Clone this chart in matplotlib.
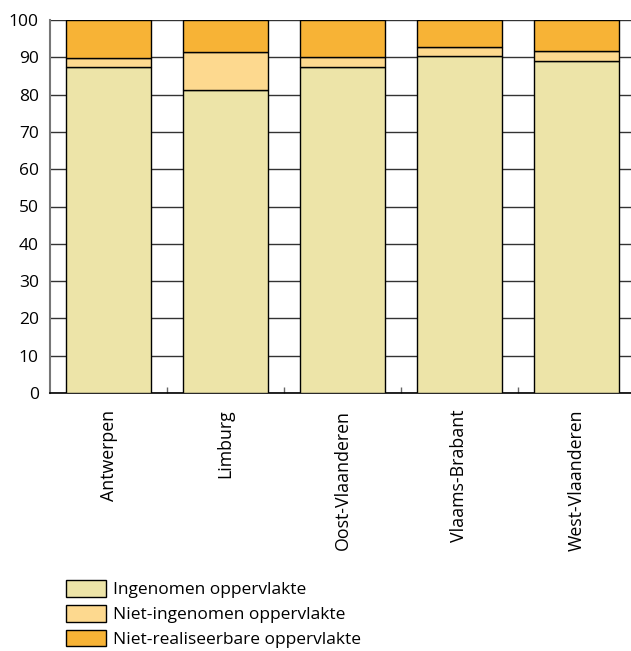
import matplotlib
matplotlib.use("Agg")
import matplotlib.pyplot as plt
from matplotlib.patches import Patch
import numpy as np

plt.rcParams['font.family'] = ['Open Sans', 'DejaVu Sans']

categories = ["Antwerpen", "Limburg", "Oost-Vlaanderen", "Vlaams-Brabant", "West-Vlaanderen"]
ingenomen = [87.5, 81.2, 87.5, 90.3, 88.9]
niet_ingenomen = [2.2, 10.3, 2.7, 2.5, 2.9]
niet_realiseerbaar = [10.3, 8.5, 9.8, 7.2, 8.2]
series_names = ["Ingenomen oppervlakte", "Niet-ingenomen oppervlakte", "Niet-realiseerbare oppervlakte"]
colors = ["#EDE4A8", "#FDD98F", "#F7B336"]
yticks = [0, 10, 20, 30, 40, 50, 60, 70, 80, 90, 100]

W, H = 631, 651
fig = plt.figure(figsize=(W / 100, H / 100), dpi=100)
ax = fig.add_axes([50 / W, 1 - 393 / H, 585 / W, 373 / H])

x = np.arange(len(categories))
bottom = np.zeros(len(categories))
handles = []
for vals, col, name in zip([ingenomen, niet_ingenomen, niet_realiseerbaar], colors, series_names):
    ax.bar(x, vals, bottom=bottom, width=0.72, color=col, edgecolor="black", linewidth=1.0, zorder=3)
    bottom += np.array(vals)
    handles.append(Patch(facecolor=col, edgecolor="black", linewidth=1.0, label=name))

ax.set_xlim(-0.5, 4.5)
ax.set_ylim(0, 100)
ax.set_yticks(yticks)
ax.set_yticklabels([str(v) for v in yticks], fontsize=12.5)
ax.yaxis.grid(True, color="#333333", linewidth=1.0, zorder=0)
ax.set_axisbelow(True)
ax.tick_params(axis="y", length=0, pad=8)

ax.set_xticks(x)
ax.set_xticklabels(categories, rotation=90, fontsize=12.8)
ax.tick_params(axis="x", which="major", length=0, pad=12)
ax.set_xticks(np.arange(0.5, 4.5, 1.0), minor=True)
ax.tick_params(axis="x", which="minor", direction="in", length=4, color="#666666", width=1)

for s in ["top", "right"]:
    ax.spines[s].set_visible(False)
ax.spines["left"].set_color("#777777")
ax.spines["left"].set_linewidth(1.5)
ax.spines["bottom"].set_color("black")
ax.spines["bottom"].set_linewidth(1.2)

fig.legend(handles=handles, loc="upper left", bbox_to_anchor=(66 / W, 1 - 580 / H),
           frameon=False, fontsize=12.5, handlelength=2.3, handleheight=1.1,
           handletextpad=0.4, labelspacing=0.38, borderpad=0, borderaxespad=0)

fig.savefig("out.png", dpi=100)
